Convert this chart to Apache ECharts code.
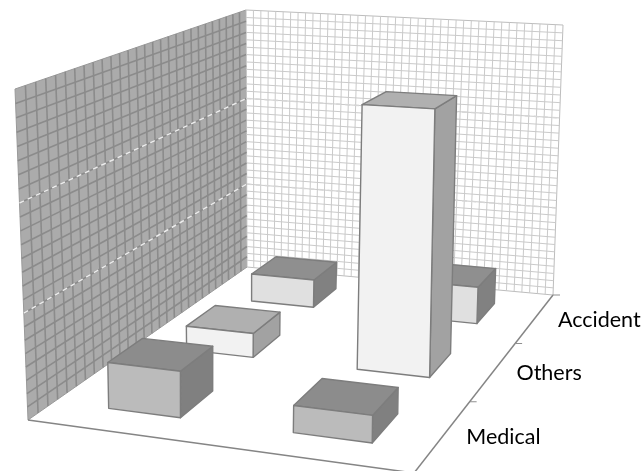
<!DOCTYPE html>
<html>
<head>
<meta charset="utf-8">
<style>html,body{margin:0;padding:0;background:#fff}#chart{width:642px;height:471px}</style>
<script src="https://cdn.jsdelivr.net/npm/echarts@6/dist/echarts.min.js"></script>
</head>
<body>
<div id="chart"></div>
<script>
// Rows run from the front of the floor to the back; each holds two columns.
const rowLabels = ['Medical', 'Others', 'Accident'];
const columnA = [44, 25, 31];
const columnB = [25, 260, 40];
const valueMax = 300;
const majorTicks = [100, 200];

const rowFaces = [
  { front: '#bbbbbb', top: '#8c8c8c', side: '#808080' },
  { front: '#f2f2f2', top: '#b0b0b0', side: '#a2a2a2' },
  { front: '#e0e0e0', top: '#8f8f8f', side: '#818181' }
];

// Floor and ceiling of the chart box in plot units, as [front-left, front-right, back-right, back-left].
const floorQuad = [[28, 420], [414, 473], [553, 295], [247, 267]];
const ceilingQuad = [[15, 89], [417, 110], [563, 25], [246, 10]];
const columnShare = 0.4;
const rowShare = 0.42;
const columnOffset = 0.005;

// Projective map of the unit square onto a quadrilateral.
function unitSquareMap(q) {
  const [p0, p1, p2, p3] = q;
  const dx1 = p1[0] - p2[0], dx2 = p3[0] - p2[0], sx = p0[0] - p1[0] + p2[0] - p3[0];
  const dy1 = p1[1] - p2[1], dy2 = p3[1] - p2[1], sy = p0[1] - p1[1] + p2[1] - p3[1];
  const den = dx1 * dy2 - dx2 * dy1;
  const g = (sx * dy2 - dx2 * sy) / den;
  const h = (dx1 * sy - sx * dy1) / den;
  const a = p1[0] - p0[0] + g * p1[0], b = p3[0] - p0[0] + h * p3[0];
  const d = p1[1] - p0[1] + g * p1[1], e = p3[1] - p0[1] + h * p3[1];
  return (u, v) => {
    const n = g * u + h * v + 1;
    return [(a * u + b * v + p0[0]) / n, (d * u + e * v + p0[1]) / n];
  };
}
const floorAt = unitSquareMap(floorQuad);
const ceilingAt = unitSquareMap(ceilingQuad);

// Box coordinates: u across the columns, v front to back, w up the value axis (all 0..1).
function boxPoint(u, v, w) {
  const a = floorAt(u, v), b = ceilingAt(u, v);
  const t = w / (1 + 0.05 * (1 - w));
  return [a[0] + (b[0] - a[0]) * t, a[1] + (b[1] - a[1]) * t];
}

function edge(api, from, to, style) {
  const p = api.coord(from), q = api.coord(to);
  return { type: 'line', shape: { x1: p[0], y1: p[1], x2: q[0], y2: q[1] }, style: style };
}
function face(api, pts, style) {
  return { type: 'polygon', shape: { points: pts.map(p => api.coord(p)) }, style: style };
}

function renderWalls(params, api) {
  const children = [];
  const leftStyle = { stroke: '#8b8b8b', lineWidth: 1.6 };
  const backStyle = { stroke: '#cacaca', lineWidth: 1 };
  const pt = (u, v, w) => boxPoint(u, v, w);

  children.push(face(api, [pt(0, 0, 0), pt(0, 1, 0), pt(0, 1, 1), pt(0, 0, 1)],
    { fill: '#ababab', stroke: '#9a9a9a', lineWidth: 1 }));
  children.push(face(api, [pt(0, 1, 0), pt(1, 1, 0), pt(1, 1, 1), pt(0, 1, 1)],
    { fill: '#ffffff', stroke: '#bdbdbd', lineWidth: 1 }));

  // Minor grid on each wall
  for (let i = 1; i < 24; i++) {
    const w = i / 24;
    children.push(edge(api, pt(0, 0, w), pt(0, 1, w), leftStyle));
  }
  for (let i = 1; i < 28; i++) {
    const v = i / 28;
    children.push(edge(api, pt(0, v, 0), pt(0, v, 1), leftStyle));
  }
  for (let i = 1; i < 36; i++) {
    const w = i / 36;
    children.push(edge(api, pt(0, 1, w), pt(1, 1, w), backStyle));
  }
  for (let i = 1; i < 42; i++) {
    const u = i / 42;
    children.push(edge(api, pt(u, 1, 0), pt(u, 1, 1), backStyle));
  }

  // Major value gridlines
  majorTicks.forEach(tick => {
    const w = tick / valueMax;
    children.push(edge(api, pt(0, 0, w), pt(0, 1, w),
      { stroke: '#ececec', lineWidth: 1.5, lineDash: [5, 4] }));
    children.push(edge(api, pt(0, 1, w), pt(1, 1, w),
      { stroke: '#d6d6d6', lineWidth: 1.5, lineDash: [5, 4] }));
  });

  // Floor edges
  const axisStyle = { stroke: '#858585', lineWidth: 1.5 };
  children.push(edge(api, pt(0, 0, 0), pt(1, 0, 0), axisStyle));
  children.push(edge(api, pt(1, 0, 0), pt(1, 1, 0), axisStyle));
  return { type: 'group', children: children };
}

function renderRowAxis(params, api) {
  const children = [];
  for (let j = 1; j <= rowLabels.length; j++) {
    const p = api.coord(floorAt(1, j / rowLabels.length));
    children.push({ type: 'line',
      shape: { x1: p[0], y1: p[1], x2: p[0] + 7, y2: p[1] },
      style: { stroke: '#8f8f8f', lineWidth: 1 } });
  }
  rowLabels.forEach((label, j) => {
    const p = api.coord(floorAt(1, (j + 0.5) / rowLabels.length));
    children.push({ type: 'text', x: p[0] + 23, y: p[1] + 1.5,
      style: { text: label, fill: '#000', font: '21.5px Lato', align: 'left', verticalAlign: 'middle' } });
  });
  return { type: 'group', children: children };
}

function barRenderer(row) {
  return function (params, api) {
    const col = api.value(0), value = api.value(1);
    const colCount = 2, rowCount = rowLabels.length;
    const uc = (col + 0.5) / colCount + columnOffset, vc = (row + 0.5) / rowCount;
    const du = columnShare / colCount / 2, dv = rowShare / rowCount / 2;
    const u0 = uc - du, u1 = uc + du, v0 = vc - dv, v1 = vc + dv;
    const w = value / valueMax;
    const paint = rowFaces[row];
    const line = { stroke: '#7d7d7d', lineWidth: 1.4, lineJoin: 'round' };
    return { type: 'group', children: [
      face(api, [boxPoint(u1, v0, 0), boxPoint(u1, v1, 0), boxPoint(u1, v1, w), boxPoint(u1, v0, w)],
        Object.assign({ fill: paint.side }, line)),
      face(api, [boxPoint(u0, v0, w), boxPoint(u1, v0, w), boxPoint(u1, v1, w), boxPoint(u0, v1, w)],
        Object.assign({ fill: paint.top }, line)),
      face(api, [boxPoint(u0, v0, 0), boxPoint(u1, v0, 0), boxPoint(u1, v0, w), boxPoint(u0, v0, w)],
        Object.assign({ fill: paint.front }, line))
    ] };
  };
}

// Back rows paint first so the nearer boxes overlap them.
const rowOrder = [2, 1, 0];
const barSeries = rowOrder.map(row => ({
  type: 'custom',
  name: rowLabels[row],
  coordinateSystem: 'cartesian2d',
  clip: false,
  silent: true,
  encode: { x: 0, y: 1 },
  data: [[0, columnA[row]], [1, columnB[row]]],
  renderItem: barRenderer(row)
}));

const chart = echarts.init(document.getElementById('chart'), null, { renderer: 'canvas' });
chart.setOption({
  animation: false,
  backgroundColor: '#ffffff',
  grid: { left: 0, right: 0, top: 0, bottom: 0 },
  xAxis: { type: 'value', min: 0, max: 642, show: false },
  yAxis: { type: 'value', min: 0, max: 471, inverse: true, show: false },
  series: [
    { type: 'custom', coordinateSystem: 'cartesian2d', clip: true, silent: true,
      data: [[0, 0]], renderItem: renderWalls },
    ...barSeries,
    { type: 'custom', coordinateSystem: 'cartesian2d', clip: false, silent: true,
      data: [[0, 0]], renderItem: renderRowAxis }
  ]
});
</script>
</body>
</html>
